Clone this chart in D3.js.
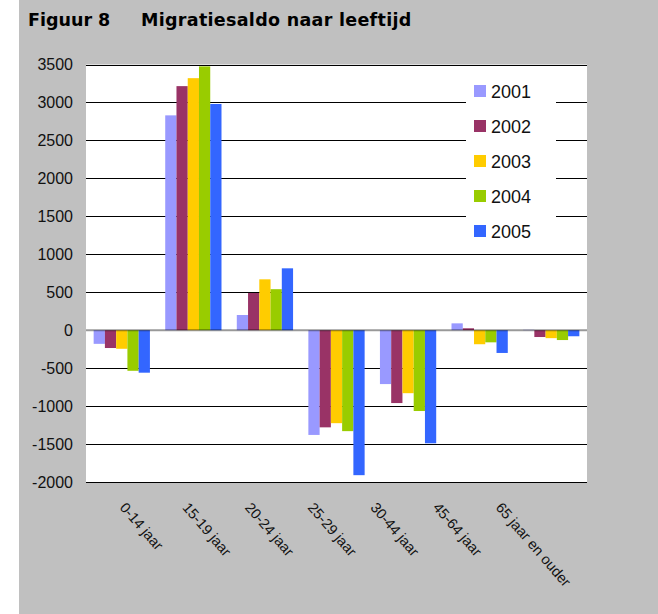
<!DOCTYPE html>
<html>
<head>
<meta charset="utf-8">
<script src="https://cdn.jsdelivr.net/npm/d3@7"></script>
<style>
  body { margin: 0; background: #fff; }
  svg { display: block; }
</style>
</head>
<body>
<div id="chart"></div>
<script>
// chart data
var categories = ["0-14 jaar", "15-19 jaar", "20-24 jaar", "25-29 jaar", "30-44 jaar", "45-64 jaar", "65 jaar en ouder"];
var years = ["2001", "2002", "2003", "2004", "2005"];
var values2001 = [-180, 2830, 200, -1380, -710, 90, 5];
var values2002 = [-235, 3215, 490, -1280, -960, 25, -90];
var values2003 = [-245, 3320, 670, -1225, -830, -185, -105];
var values2004 = [-535, 3475, 540, -1330, -1065, -160, -130];
var values2005 = [-560, 2980, 815, -1910, -1490, -300, -80];
var yTicks = [-2000, -1500, -1000, -500, 0, 500, 1000, 1500, 2000, 2500, 3000, 3500];
var colors = ["#9999FF", "#993366", "#FFCC00", "#99CC00", "#3366FF"];

var series = [values2001, values2002, values2003, values2004, values2005];

var W = 658, H = 614;
var plot = { left: 86, right: 587, top: 64.5, bottom: 482 };

var svg = d3.select("#chart")
  .append("svg")
  .attr("width", W)
  .attr("height", H);

// gray page background
svg.append("rect")
  .attr("x", 19).attr("y", 0)
  .attr("width", W - 19).attr("height", H)
  .attr("fill", "#C0C0C0");

// title
svg.append("text")
  .attr("x", 28).attr("y", 26)
  .style("font-family", "DejaVu Sans")
  .style("font-weight", "bold")
  .style("font-size", "17.5px")
  .text("Figuur 8");
svg.append("text")
  .attr("x", 141).attr("y", 26)
  .style("font-family", "DejaVu Sans")
  .style("font-weight", "bold")
  .style("font-size", "17.5px")
  .style("letter-spacing", "0.3px")
  .text("Migratiesaldo naar leeftijd");

// white plot area
svg.append("rect")
  .attr("x", plot.left).attr("y", plot.top)
  .attr("width", plot.right - plot.left)
  .attr("height", plot.bottom - plot.top)
  .attr("fill", "#fff");

var x0 = d3.scaleBand()
  .domain(categories)
  .range([plot.left, plot.right]);

var x1 = d3.scaleBand()
  .domain(years)
  .range([0, x0.bandwidth()])
  .paddingOuter(0.68);

var y = d3.scaleLinear()
  .domain([-2000, 3500])
  .range([plot.bottom, plot.top]);

// gridlines
svg.append("g")
  .selectAll("line")
  .data(yTicks.filter(function(d) { return d !== 0; }))
  .enter()
  .append("line")
  .attr("x1", plot.left).attr("x2", plot.right)
  .attr("y1", function(d) { return Math.round(y(d)) + 0.5; })
  .attr("y2", function(d) { return Math.round(y(d)) + 0.5; })
  .attr("stroke", "#000")
  .attr("stroke-width", 1);

// y tick labels
svg.append("g")
  .selectAll("text")
  .data(yTicks)
  .enter()
  .append("text")
  .attr("x", 73)
  .attr("y", function(d) { return y(d) + 5.5; })
  .attr("text-anchor", "end")
  .style("font-family", "Liberation Sans, Arial")
  .style("font-size", "16px")
  .attr("fill", "#111")
  .text(function(d) { return d; });

// legend box (covers the gridlines)
svg.append("rect")
  .attr("x", 466).attr("y", 70)
  .attr("width", 90).attr("height", 178)
  .attr("fill", "#fff");

// bars
var groups = svg.append("g")
  .selectAll("g")
  .data(categories)
  .enter()
  .append("g")
  .attr("transform", function(d) { return "translate(" + x0(d) + ",0)"; });

groups.selectAll("rect")
  .data(function(d, i) {
    return years.map(function(yr, j) {
      return { year: yr, value: series[j][i], color: colors[j] };
    });
  })
  .enter()
  .append("rect")
  .attr("x", function(d) { return x1(d.year); })
  .attr("width", x1.bandwidth())
  .attr("y", function(d) { return y(Math.max(0, d.value)); })
  .attr("height", function(d) { return Math.abs(y(d.value) - y(0)); })
  .attr("fill", function(d) { return d.color; });

// zero line over the bars
svg.append("line")
  .attr("x1", plot.left).attr("x2", plot.right)
  .attr("y1", y(0)).attr("y2", y(0))
  .attr("stroke", "#000")
  .attr("stroke-opacity", 0.4)
  .attr("stroke-width", 2);

// x labels, rotated
var xl = d3.scalePoint()
  .domain(categories)
  .range([119, 495]);

svg.append("g")
  .selectAll("text")
  .data(categories)
  .enter()
  .append("text")
  .attr("transform", function(d) { return "translate(" + xl(d) + ",508)rotate(49)"; })
  .style("font-family", "Liberation Sans, Arial")
  .style("font-size", "14.5px")
  .attr("fill", "#111")
  .text(function(d) { return d; });

// legend
var legend = svg.append("g")
  .selectAll("g")
  .data(years)
  .enter()
  .append("g")
  .attr("transform", function(d, i) { return "translate(474," + (91 + i * 35) + ")"; });

legend.append("rect")
  .attr("x", 0).attr("y", -6)
  .attr("width", 12).attr("height", 12)
  .attr("fill", function(d, i) { return colors[i]; });

legend.append("text")
  .attr("x", 17).attr("y", 6.5)
  .style("font-family", "Liberation Sans, Arial")
  .style("font-size", "18px")
  .attr("fill", "#111")
  .text(function(d) { return d; });
</script>
</body>
</html>
